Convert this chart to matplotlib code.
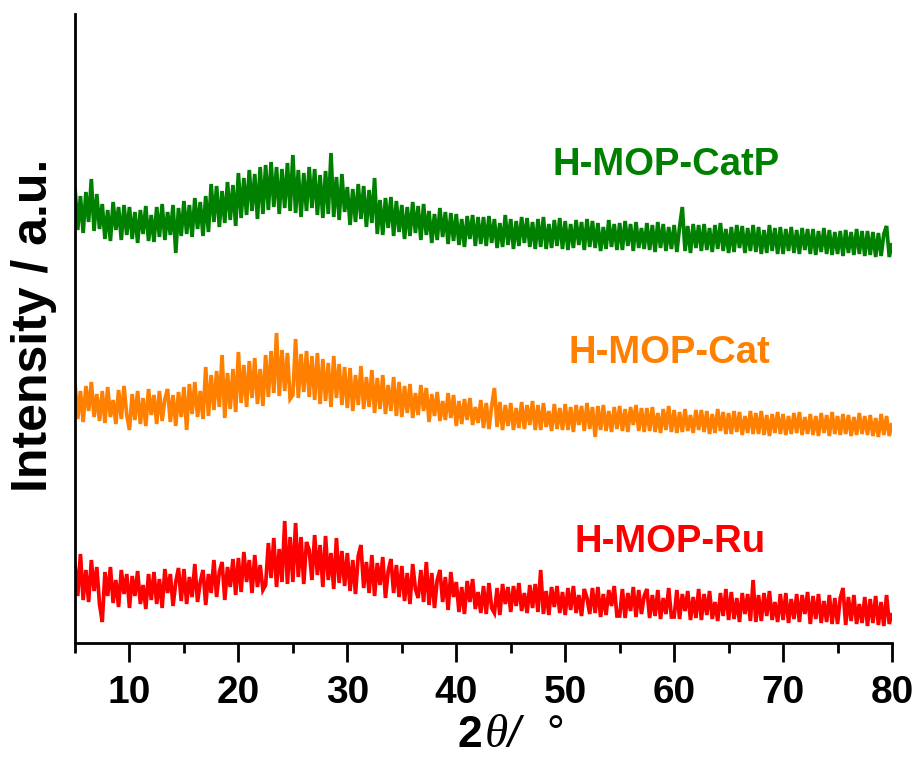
import numpy as np
import matplotlib
matplotlib.use("Agg")
import matplotlib.pyplot as plt
from matplotlib.ticker import MultipleLocator

# 2theta grid (deg), 0.25 deg step from 5 to 80
two_theta = np.round(np.arange(5.0, 80.001, 0.25), 2)

# Intensities (a.u.), before vertical stacking
ru = [
    79, 47, 89, 43, 73, 41, 83, 52, 76, 39,
    21, 71, 47, 76, 40, 63, 36, 73, 49, 69,
    35, 67, 47, 72, 39, 58, 34, 69, 43, 71,
    39, 64, 35, 74, 50, 69, 37, 61, 75, 42,
    74, 39, 66, 46, 79, 41, 61, 73, 38, 69,
    50, 83, 46, 71, 81, 43, 76, 56, 84, 48,
    85, 51, 91, 61, 83, 50, 88, 56, 78, 53,
    58, 100, 65, 105, 56, 94, 61, 122, 59, 106,
    61, 120, 66, 106, 59, 101, 93, 63, 108, 68,
    98, 56, 107, 63, 90, 54, 105, 60, 92, 57,
    90, 52, 83, 49, 87, 98, 55, 81, 50, 88,
    47, 80, 58, 86, 45, 72, 84, 50, 78, 46,
    77, 42, 70, 39, 79, 54, 45, 73, 41, 81,
    38, 70, 35, 63, 73, 41, 66, 33, 71, 46,
    61, 31, 56, 29, 62, 41, 64, 34, 51, 30,
    57, 29, 60, 35, 30, 55, 28, 59, 39, 56,
    31, 57, 37, 60, 32, 50, 30, 58, 35, 59,
    31, 73, 29, 52, 28, 56, 36, 57, 30, 51,
    28, 55, 33, 57, 30, 48, 27, 54, 45, 29,
    55, 30, 56, 26, 49, 28, 53, 37, 57, 27,
    27, 54, 25, 50, 32, 56, 26, 53, 29, 47,
    54, 25, 48, 27, 53, 24, 45, 29, 55, 26,
    26, 53, 24, 49, 32, 52, 23, 46, 25, 54,
    23, 49, 28, 52, 24, 41, 22, 50, 27, 54,
    23, 51, 24, 45, 21, 50, 29, 49, 22, 63,
    21, 48, 22, 50, 27, 52, 23, 41, 21, 49,
    23, 50, 20, 44, 24, 49, 21, 48, 29, 51,
    19, 47, 24, 49, 20, 42, 21, 48, 19, 45,
    19, 45, 55, 18, 46, 22, 48, 19, 39, 20,
    46, 17, 44, 20, 47, 18, 41, 17, 48, 19,
    30,
]

cat = [
    80, 44, 72, 41, 77, 52, 81, 46, 69, 42,
    72, 40, 76, 46, 63, 39, 73, 44, 77, 48,
    33, 69, 43, 72, 39, 65, 37, 74, 48, 68,
    39, 72, 42, 64, 74, 41, 68, 37, 71, 46,
    76, 33, 79, 49, 81, 46, 72, 44, 96, 47,
    88, 53, 92, 56, 108, 45, 90, 54, 94, 51,
    111, 60, 98, 56, 102, 65, 105, 59, 94, 57,
    108, 66, 112, 70, 130, 67, 113, 72, 110, 64,
    68, 124, 65, 109, 71, 112, 66, 107, 63, 110,
    59, 104, 62, 100, 56, 107, 65, 99, 58, 96,
    55, 95, 52, 88, 58, 97, 54, 86, 56, 93,
    50, 85, 54, 88, 49, 78, 52, 86, 47, 81,
    46, 77, 50, 79, 45, 70, 48, 78, 52, 75,
    41, 69, 47, 71, 42, 62, 43, 70, 45, 68,
    37, 62, 39, 64, 43, 65, 38, 56, 40, 63,
    35, 60, 34, 57, 75, 36, 61, 33, 58, 37,
    60, 33, 55, 35, 61, 34, 58, 38, 62, 33,
    58, 33, 60, 36, 52, 32, 59, 34, 55, 33,
    59, 33, 56, 31, 58, 38, 57, 32, 60, 34,
    56, 26, 57, 33, 58, 32, 52, 31, 56, 34,
    57, 32, 54, 31, 56, 38, 58, 32, 55, 31,
    55, 32, 56, 31, 50, 30, 54, 33, 57, 31,
    53, 30, 51, 31, 54, 32, 48, 30, 53, 33,
    53, 31, 52, 29, 49, 30, 54, 32, 51, 29,
    50, 29, 52, 31, 51, 28, 47, 30, 52, 29,
    50, 29, 52, 28, 48, 27, 49, 30, 51, 29,
    49, 28, 47, 29, 50, 30, 51, 28, 46, 29,
    49, 28, 47, 27, 50, 30, 48, 27, 51, 29,
    47, 28, 49, 29, 48, 27, 46, 28, 50, 29,
    47, 28, 48, 27, 45, 26, 49, 28, 47, 27,
    40,
]

catp = [
    85, 43, 77, 40, 81, 51, 94, 42, 79, 44,
    69, 34, 63, 32, 71, 43, 66, 33, 68, 38,
    66, 34, 61, 30, 63, 39, 67, 32, 58, 31,
    66, 36, 69, 33, 61, 38, 68, 20, 65, 37,
    72, 39, 68, 36, 75, 44, 71, 37, 77, 41,
    89, 51, 87, 46, 82, 50, 91, 53, 88, 47,
    100, 55, 95, 58, 103, 62, 99, 54, 106, 59,
    108, 63, 111, 66, 106, 59, 104, 65, 110, 62,
    118, 60, 103, 56, 100, 62, 106, 65, 104, 58,
    98, 55, 102, 59, 120, 56, 96, 53, 99, 61,
    86, 48, 84, 51, 89, 54, 87, 46, 83, 50,
    95, 39, 73, 38, 75, 45, 76, 37, 72, 41,
    68, 34, 66, 37, 71, 40, 67, 33, 69, 38,
    62, 30, 59, 33, 65, 36, 61, 29, 60, 32,
    59, 28, 54, 26, 57, 34, 58, 27, 56, 29,
    56, 27, 57, 30, 54, 25, 50, 26, 58, 28,
    54, 24, 52, 27, 56, 30, 55, 26, 51, 24,
    54, 26, 56, 24, 49, 25, 53, 27, 55, 24,
    52, 23, 49, 25, 53, 28, 51, 23, 54, 26,
    52, 25, 50, 22, 46, 24, 53, 26, 49, 23,
    50, 23, 52, 27, 49, 22, 51, 25, 45, 24,
    50, 23, 48, 21, 51, 25, 49, 22, 46, 24,
    48, 21, 46, 66, 22, 47, 20, 49, 25, 48,
    22, 49, 23, 45, 21, 48, 24, 50, 22, 44,
    20, 46, 21, 48, 25, 47, 20, 45, 22, 48,
    21, 46, 19, 43, 20, 48, 22, 45, 19, 46,
    19, 44, 22, 46, 20, 43, 19, 45, 23, 44,
    19, 44, 18, 42, 21, 45, 19, 43, 18, 41,
    19, 42, 17, 43, 20, 41, 18, 44, 19, 42,
    17, 42, 18, 41, 16, 40, 17, 39, 47, 16,
    30,
]

series_names = ["H-MOP-Ru", "H-MOP-Cat", "H-MOP-CatP"]
series_values = [ru, cat, catp]
series_offsets = [0, 180, 370]
series_colors = ["#ff0000", "#ff8000", "#008000"]
label_pos = [(59.6, 101), (59.6, 290), (59.3, 478)]

x_ticks = [10, 20, 30, 40, 50, 60, 70, 80]

W, H = 920, 758
fig = plt.figure(figsize=(W / 100, H / 100), dpi=100)
ax = fig.add_axes([75 / W, 115 / H, 817 / W, 629 / H])

for vals, off, col in zip(series_values, series_offsets, series_colors):
    ax.plot(two_theta, np.asarray(vals) + off, color=col, lw=2.7,
            solid_joinstyle="miter", solid_capstyle="butt")

for name, (lx, ly), col in zip(series_names, label_pos, series_colors):
    ax.text(lx, ly, name, color=col, fontsize=27.5, fontweight="bold",
            family=["Liberation Sans", "DejaVu Sans"], ha="center", va="center")

ax.set_xlim(5, 80)
ax.set_ylim(0, 629)
ax.set_xticks(x_ticks)
ax.xaxis.set_minor_locator(MultipleLocator(5))
ax.set_yticks([])
for s in ["top", "right"]:
    ax.spines[s].set_visible(False)
for s in ["left", "bottom"]:
    ax.spines[s].set_linewidth(2)
ax.tick_params(axis="x", which="major", direction="out", length=14, width=2, pad=9)
ax.tick_params(axis="x", which="minor", direction="out", length=7, width=2)
for lab in ax.get_xticklabels():
    lab.set_fontfamily(["Liberation Sans", "DejaVu Sans"])
    lab.set_fontweight("bold")
    lab.set_fontsize(28)

# x-axis label: 2θ/ °
fy = (H - 747) / H
fig.text(458 / W, fy, "2", fontsize=32, fontweight="bold",
         family=["Liberation Sans", "DejaVu Sans"], ha="left", va="baseline")
fig.text(485 / W, fy, "θ", fontsize=34, style="italic",
         family=["Liberation Serif", "DejaVu Serif"], ha="left", va="baseline")
fig.text(508 / W, fy, "/", fontsize=32, style="italic",
         family=["Liberation Sans", "DejaVu Sans"], ha="left", va="baseline")
fig.text(546 / W, fy, "°", fontsize=32,
         family=["Liberation Sans", "DejaVu Sans"], ha="left", va="baseline")

fig.text(34 / W, 1 - 325 / H, "Intensity / a.u.", rotation=90, fontsize=36,
         fontweight="bold", family=["Liberation Sans", "DejaVu Sans"],
         ha="center", va="center")

fig.savefig("out.png", dpi=100)
